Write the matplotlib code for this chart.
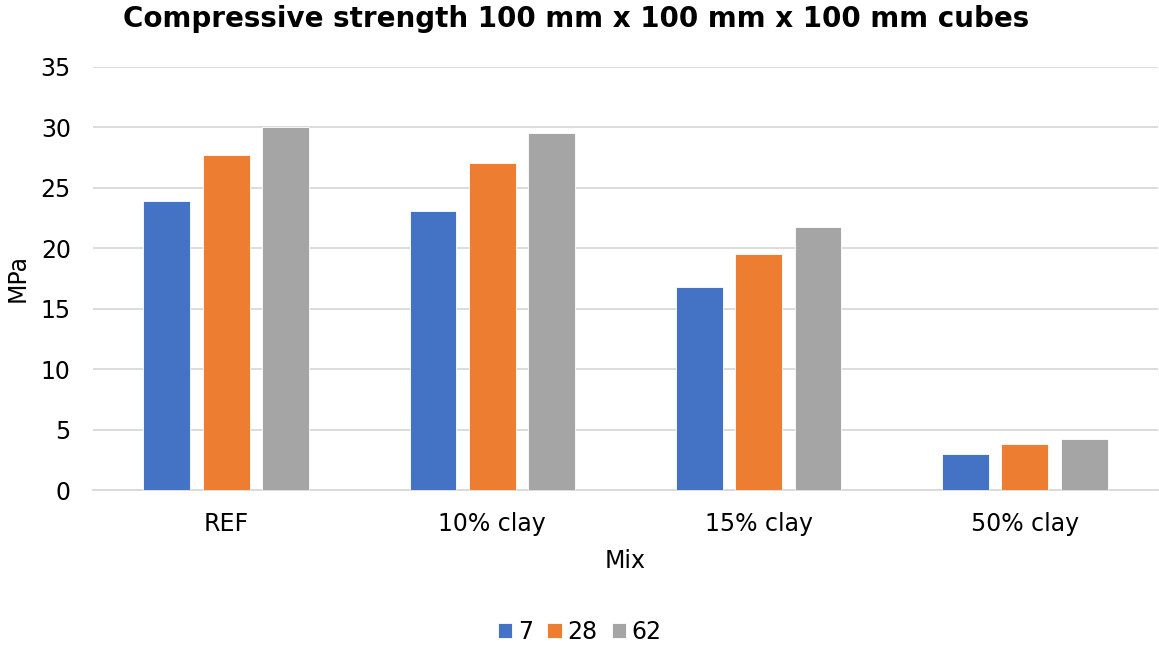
import matplotlib
matplotlib.use("Agg")
import matplotlib.pyplot as plt
import numpy as np

# Compressive strength of cube specimens per mix and curing age
mixes = ["REF", "10% clay", "15% clay", "50% clay"]
ages = ["7", "28", "62"]
strength_7 = [23.9, 23.1, 16.8, 3.0]
strength_28 = [27.7, 27.05, 19.5, 3.8]
strength_62 = [30.0, 29.55, 21.75, 4.2]
colors = ["#4472C4", "#ED7D31", "#A5A5A5"]

plt.rcParams["font.family"] = ["DejaVu Sans"]

fig = plt.figure(figsize=(11.59, 6.46), dpi=100)
ax = fig.add_axes([93 / 1159, 1 - 490 / 646, 1065 / 1159, 423 / 646])

x = np.arange(len(mixes))
bar_w = 0.176
step = 0.223
for i, (vals, label) in enumerate(zip([strength_7, strength_28, strength_62], ages)):
    ax.bar(x + (i - 1) * step, vals, width=bar_w, color=colors[i], label=label,
           edgecolor="white", linewidth=0.6, zorder=3)

ax.set_xlim(-0.5, len(mixes) - 0.5)
ax.set_ylim(0, 35)
ax.set_yticks(range(0, 36, 5))
ax.set_xticks(x)
ax.set_xticklabels(mixes)
ax.tick_params(axis="both", length=0, labelsize=17, colors="#000000")
ax.tick_params(axis="x", pad=16)
ax.tick_params(axis="y", pad=16)
ax.grid(axis="y", color="#D9D9D9", linewidth=1.3, zorder=0)
for side in ["top", "right", "left"]:
    ax.spines[side].set_visible(False)
ax.spines["bottom"].set_color("#D9D9D9")
ax.spines["bottom"].set_linewidth(1.3)

ax.set_ylabel("MPa", fontsize=17)
ax.yaxis.set_label_coords(-63 / 1065, 0.5)
ax.set_xlabel("Mix", fontsize=17)
ax.xaxis.set_label_coords((625 - 93) / 1065, -59 / 423)
fig.text(0.5 * (118 + 1035) / 1159, 1 - 19 / 646,
         "Compressive strength 100 mm x 100 mm x 100 mm cubes",
         ha="center", va="center", fontsize=20, fontweight="bold")

fig.legend(loc="center", bbox_to_anchor=(580 / 1159, 1 - 632 / 646), ncol=3,
           frameon=False, fontsize=17, handlelength=0.6, handleheight=0.6,
           handletextpad=0.25, columnspacing=0.6)

fig.savefig("out.png", dpi=100)
